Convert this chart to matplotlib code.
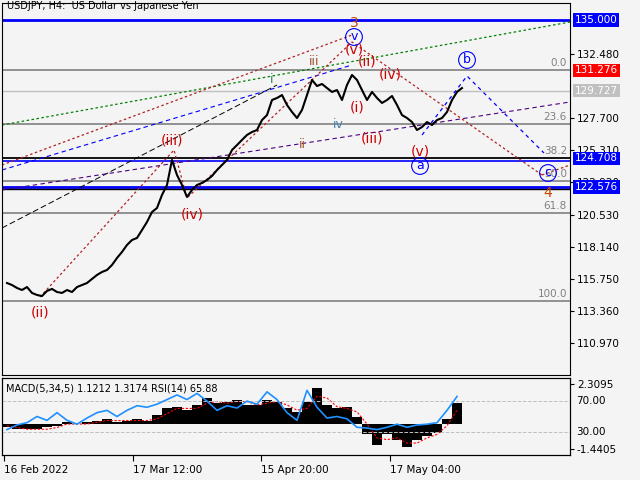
import numpy as np
import matplotlib.pyplot as plt

# H4 closes (roughly every 5 px along the chart)
closes = [115.44, 115.29, 115.07, 114.92, 115.14, 114.70, 114.55, 114.47, 114.85, 115.00,
          114.77, 114.70, 114.92, 114.77, 115.14, 115.29, 115.44, 115.74, 116.04, 116.26,
          116.41, 116.78, 117.30, 117.75, 118.27, 118.64, 118.79, 119.38, 119.98, 120.72,
          121.02, 121.99, 122.73, 124.59, 123.47, 122.73, 121.84, 122.36, 122.73, 122.88,
          123.10, 123.40, 123.84, 124.22, 124.59, 125.33, 125.70, 126.08, 126.45, 126.67,
          126.82, 127.56, 127.93, 129.05, 129.20, 129.42, 128.68, 128.16, 127.71, 128.31,
          129.42, 130.54, 130.09, 130.24, 129.94, 129.65, 129.79, 129.05, 130.17, 130.91,
          130.54, 129.79, 129.05, 129.65, 129.20, 128.83, 129.05, 129.35, 128.68, 127.93,
          127.71, 127.41, 126.82, 127.04, 127.41, 127.19, 127.56, 127.71, 128.16, 129.05,
          129.65, 129.94]

macd_hist = [-0.2, -0.3, -0.3, -0.3, -0.2, -0.1, 0.1, 0.0, 0.1, 0.2, 0.3, 0.1, 0.2, 0.3, 0.2,
             0.5, 0.9, 1.0, 0.8, 1.1, 1.5, 1.2, 1.3, 1.4, 1.1, 1.1, 1.4, 1.3, 0.9, 0.7,
             1.3, 2.1, 1.1, 0.9, 1.0, 0.4, -0.6, -1.2, -0.6, -0.9, -1.3, -0.9, -0.7, -0.5,
             0.3, 1.2]
macd_signal = [-0.1, -0.2, -0.3, -0.3, -0.3, -0.2, 0.0, 0.0, 0.0, 0.1, 0.2, 0.2, 0.2, 0.2, 0.2,
               0.3, 0.6, 0.9, 0.9, 0.9, 1.2, 1.3, 1.2, 1.3, 1.3, 1.1, 1.2, 1.3, 1.1, 0.8,
               0.9, 1.6, 1.5, 1.0, 0.9, 0.7, 0.0, -0.8, -0.9, -0.8, -1.1, -1.1, -0.8, -0.6,
               -0.1, 0.8]
rsi = [33, 39, 42, 50, 45, 55, 45, 40, 48, 55, 58, 50, 58, 64, 62, 66, 72, 78, 72, 80,
       70, 58, 64, 61, 70, 66, 82, 72, 55, 45, 84, 62, 48, 50, 47, 36, 35, 33, 36, 40,
       36, 39, 40, 42, 58, 76]

fib_levels = [("0.0", 131.276), ("23.6", 127.25), ("38.2", 124.70), ("50.0", 123.0),
              ("61.8", 120.65), ("100.0", 114.1)]
price_ticks = [132.480, 127.700, 125.310, 122.920, 120.530, 118.140, 115.750, 113.360, 110.970]
boxed = [(135.000, "#0000ff", "white"), (131.276, "#ff0000", "white"),
         (129.727, "#c0c0c0", "white"), (124.708, "#0000ff", "white"),
         (122.576, "#0000ff", "white")]
date_labels = ["16 Feb 2022", "17 Mar 12:00", "15 Apr 20:00", "17 May 04:00"]
date_pos = [2, 131, 259, 388]

W = 568  # plot width in px
bg = "#f4f4f4"
fig = plt.figure(figsize=(6.4, 4.8), dpi=100, facecolor=bg)
ax = fig.add_axes([2 / 640, 105 / 480, W / 640, 372 / 480], facecolor=bg)
ax2 = fig.add_axes([2 / 640, 25 / 480, W / 640, 77 / 480], facecolor=bg)

ppx = 0.07437  # price per pixel
ax.set_xlim(0, W)
ax.set_ylim(135 - 355 * ppx, 135 + 17 * ppx)

def py(y):  # pixel row -> price, for the hand-drawn overlays
    return 135 - (y - 20) * ppx

# horizontal levels
for name, lvl in fib_levels:
    ax.axhline(lvl, color="#808080", lw=1.2)
    ax.text(565, lvl + 0.15, name, ha="right", va="bottom", fontsize=7.5, color="#808080")
ax.axhline(129.727, color="#c0c0c0", lw=1)
ax.axhline(135.0, color="#0000ff", lw=2)
ax.axhline(124.708, color="#000000", lw=1.2)
ax.axhline(124.5, color="#0000ff", lw=1.2)
ax.axhline(122.576, color="#0000ff", lw=2)
ax.axhline(122.45, color="#000000", lw=1)

# trend / channel lines
ax.plot([0, W], [py(125), py(22)], color="#008000", ls=(0, (2, 2)), lw=0.9)
ax.plot([0, 350], [py(165), py(35)], color="#b22222", ls=(0, (2, 2)), lw=0.9)
ax.plot([0, 350], [py(170), py(65)], color="#0000ff", ls=(0, (4, 3)), lw=0.8)
ax.plot([0, 275], [py(228), py(85)], color="#000000", ls=(0, (6, 3)), lw=0.7)
ax.plot([0, W], [py(190), py(102)], color="#4b0082", ls=(0, (4, 3)), lw=0.8)
# wave paths
ax.plot([38, 172, 185, 350, 540], [py(297), py(150), py(198), py(42), py(175)],
        color="#b22222", ls=(0, (2, 2)), lw=0.9)
ax.plot([540, 568], [py(175), py(165)], color="#b22222", ls=(0, (2, 2)), lw=0.9)
ax.plot([420, 465, 542], [py(135), py(76), py(153)], color="#0000ff", ls=(0, (3, 3)), lw=0.9)

x = 5 + 5 * np.arange(len(closes))
ax.plot(x, closes, color="black", lw=1.5)

def label(px, pyy, s, c, circ=False, fs=9):
    kw = dict(ha="center", va="center", fontsize=fs, color=c)
    if circ:
        kw["bbox"] = dict(boxstyle="circle,pad=0.15", fc="none", ec=c, lw=0.8)
    ax.text(px, py(pyy), s, **kw)

label(38, 312, "(ii)", "#cc0000", fs=10)
label(170, 140, "(iii)", "#cc0000", fs=10)
label(190, 215, "(iv)", "#cc0000", fs=10)
label(352, 23, "3", "#cc4400", fs=10)
label(352, 37, "v", "#0000ff", circ=True)
label(352, 50, "(v)", "#cc0000", fs=10)
label(312, 62, "iii", "#a0522d", fs=9)
label(270, 80, "i", "#2e8b57", fs=9)
label(300, 145, "ii", "#a0522d", fs=9)
label(336, 125, "iv", "#4682b4", fs=9)
label(365, 62, "(ii)", "#cc0000", fs=10)
label(355, 108, "(i)", "#cc0000", fs=10)
label(388, 75, "(iv)", "#cc0000", fs=10)
label(370, 138, "(iii)", "#cc0000", fs=10)
label(418, 152, "(v)", "#cc0000", fs=10)
label(418, 166, "a", "#0000ff", circ=True)
label(465, 60, "b", "#0000ff", circ=True)
label(546, 173, "c", "#0000ff", circ=True)
label(546, 193, "4", "#cc4400", fs=10)

ax.text(5, py(6), "USDJPY, H4:  US Dollar vs Japanese Yen", fontsize=7, va="center")

# right price scale
ax.yaxis.tick_right()
ax.set_yticks(price_ticks)
ax.set_yticklabels([f"{t:.3f}" for t in price_ticks], fontsize=7.5)
ax.tick_params(axis="y", length=3, pad=2)
ax.set_xticks([])
for lvl, fc, tc in boxed:
    ax.text(W + 5, lvl, f"{lvl:.3f}", fontsize=7.5, color=tc, va="center", ha="left", clip_on=False,
            bbox=dict(boxstyle="square,pad=0.15", fc=fc, ec="none"))

# MACD / RSI panel
xm = 5 + 10 * np.arange(len(macd_hist))
ax2.set_xlim(0, W)
ax2.set_ylim(-1.787, 2.656)
ax2.bar(xm, macd_hist, width=10, color="black")
ax2.plot(xm, macd_signal, color="red", ls=(0, (2, 1.5)), lw=0.8)
ax3 = ax2.twinx()
ax3.set_ylim(0, 100)
ax3.axhline(70, color="#c0c0c0", ls="--", lw=0.7)
ax3.axhline(30, color="#c0c0c0", ls="--", lw=0.7)
ax3.plot(xm, rsi, color="#1e90ff", lw=1.2)
ax3.set_yticks([])
ax2.yaxis.tick_right()
ax2.set_yticks([2.3095, -1.4405])
ax2.set_yticklabels(["2.3095", "-1.4405"], fontsize=7.5)
ax2.tick_params(axis="y", length=3, pad=2)
ax3.text(W + 6, 70, "70.00", fontsize=7.5, va="center", clip_on=False)
ax3.text(W + 6, 30, "30.00", fontsize=7.5, va="center", clip_on=False)
ax2.text(4, 2.05, "MACD(5,34,5) 1.1212 1.3174 RSI(14) 65.88", fontsize=7, va="center")
ax2.set_xticks(date_pos)
ax2.set_xticklabels(date_labels, fontsize=7.5, ha="left")
ax2.tick_params(axis="x", length=4)

fig.savefig("out.png", dpi=100, facecolor=bg)
